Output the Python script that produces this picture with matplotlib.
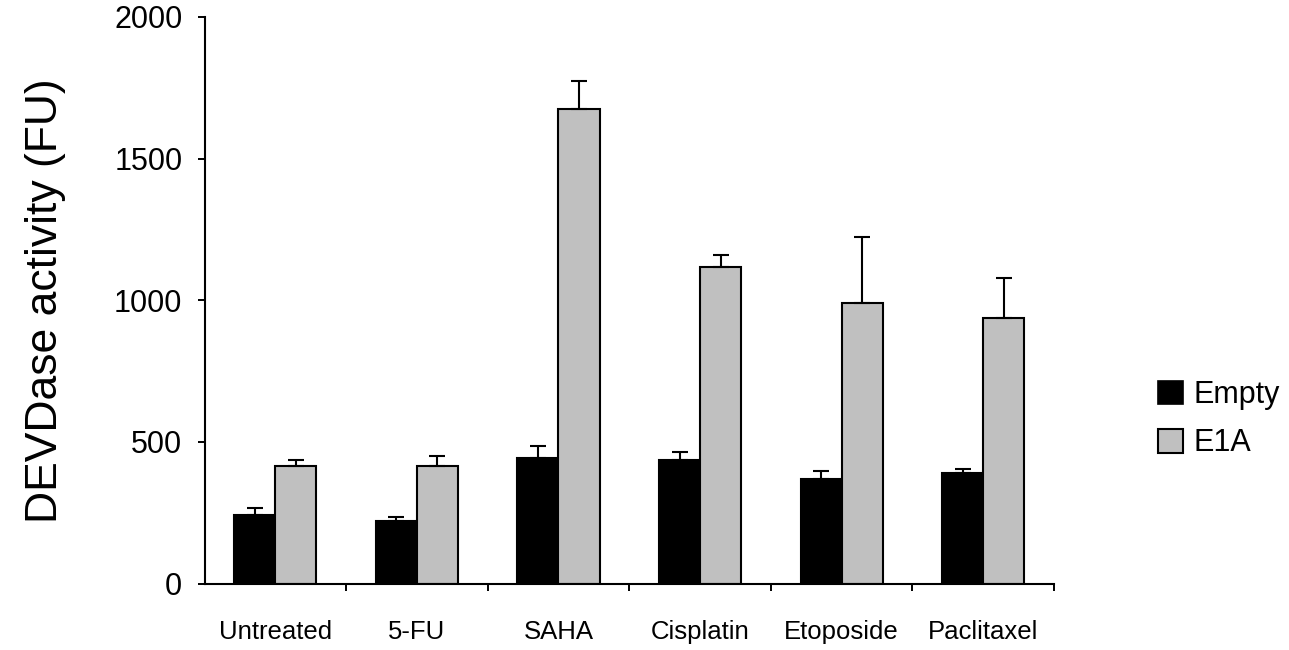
import matplotlib
matplotlib.use("Agg")
import matplotlib.pyplot as plt
import numpy as np
from matplotlib.patches import Patch

plt.rcParams['font.family'] = ['Liberation Sans', 'DejaVu Sans']

categories = ["Untreated", "5-FU", "SAHA", "Cisplatin", "Etoposide", "Paclitaxel"]
empty_vals = [242, 221, 444, 435, 368, 390]
empty_err = [26, 14, 40, 30, 29, 14]
e1a_vals = [416, 416, 1676, 1116, 990, 936]
e1a_err = [20, 35, 97, 44, 235, 141]
yticks = [0, 500, 1000, 1500, 2000]

fig = plt.figure(figsize=(12.89, 6.5), dpi=100)
ax = fig.add_axes([204.5/1289, 1-583.5/650, (1054-204.5)/1289, (583.5-17)/650])

n = len(categories)
centers = np.arange(n) + 0.5
w = 0.29
gray = "#C0C0C0"

ax.bar(centers - w/2, empty_vals, width=w, color="black", edgecolor="black", linewidth=1.5, zorder=2)
ax.bar(centers + w/2, e1a_vals, width=w, color=gray, edgecolor="black", linewidth=1.5, zorder=2)
ax.errorbar(centers - w/2, empty_vals, yerr=[np.zeros(n), empty_err], fmt='none',
            ecolor="black", elinewidth=1.5, capsize=5.5, capthick=1.5, zorder=3)
ax.errorbar(centers + w/2, e1a_vals, yerr=[np.zeros(n), e1a_err], fmt='none',
            ecolor="black", elinewidth=1.5, capsize=5.5, capthick=1.5, zorder=3)

ax.set_xlim(0, n)
ax.set_ylim(0, 2000)
ax.set_yticks(yticks)
ax.set_yticklabels([str(t) for t in yticks], fontsize=22)
ax.set_xticks(centers)
ax.set_xticklabels(categories, fontsize=18.5)
ax.set_xticks(np.arange(1, n + 1), minor=True)
ax.tick_params(axis='x', which='major', length=0, pad=26)
ax.tick_params(axis='x', which='minor', length=5, width=1.4, direction='out')
ax.tick_params(axis='y', which='major', length=5, width=1.4, direction='out', pad=11)

for s in ["top", "right"]:
    ax.spines[s].set_visible(False)
for s in ["left", "bottom"]:
    ax.spines[s].set_linewidth(1.5)

fig.text(0.035, 0.538, "DEVDase activity (FU)", rotation=90, ha="center", va="center", fontsize=32)

handles = [Patch(facecolor="black", edgecolor="black", linewidth=1.2),
           Patch(facecolor=gray, edgecolor="black", linewidth=1.5)]
fig.legend(handles, ["Empty", "E1A"], loc="upper left", bbox_to_anchor=(1158/1289, 1-380/650),
           frameon=False, fontsize=22, handlelength=0.82, handleheight=0.82,
           handletextpad=0.35, labelspacing=0.6, borderpad=0, borderaxespad=0)

fig.savefig("out.png", dpi=100)
